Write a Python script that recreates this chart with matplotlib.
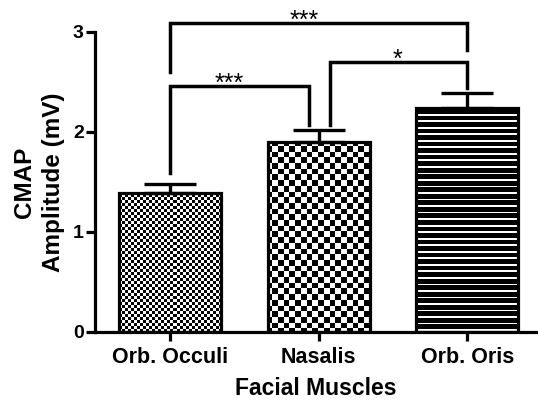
import numpy as np
import matplotlib
matplotlib.use("Agg")
import matplotlib.pyplot as plt

categories = ["Orb. Occuli", "Nasalis", "Orb. Oris"]
means = [1.39, 1.90, 2.24]
errors = [0.09, 0.12, 0.15]
yticks = [0, 1, 2, 3]
# significance brackets: (left bar, right bar, bracket height, left leg bottom,
#                         right leg bottom, label)
brackets = [
    (0, 2, 3.09, 2.60, 2.82, "***"),
    (0, 1, 2.46, 1.59, 2.07, "***"),
    (1, 2, 2.70, 2.07, 2.44, "*"),
]
# horizontal shift of bracket legs away from the bar centre (category units)
leg_shift = [(0.0, 0.0), (0.0, -0.067), (0.074, 0.0)]
label_shift = [-0.10, -0.10, 0.03]

plt.rcParams['font.family'] = ['Liberation Sans', 'DejaVu Sans']
plt.rcParams['font.weight'] = 'bold'

W, H = 538, 401
fig = plt.figure(figsize=(W / 100, H / 100), dpi=100)
ax_l, ax_r, ax_b, ax_t = 95, 537, 332, 32
ax = fig.add_axes([ax_l / W, (H - ax_b) / H, (ax_r - ax_l) / W, (ax_b - ax_t) / H])

x = np.arange(len(categories))
bars = ax.bar(x, means, width=0.687, facecolor='none', edgecolor='black',
              linewidth=2.3, zorder=3)
ax.errorbar(x, means, yerr=[np.zeros(len(errors)), errors], fmt='none',
            ecolor='black', elinewidth=2.4, capsize=19, capthick=2.4, zorder=2)

# fill patterns
apx_w, apx_h = ax_r - ax_l, ax_b - ax_t

def checker(cell):
    ny, nx = int(apx_h / cell) + 1, int(apx_w / cell) + 1
    yy, xx = np.mgrid[0:ny, 0:nx]
    img = ((yy + xx) % 2).astype(float)
    ext_w, ext_h = nx * cell / apx_w, ny * cell / apx_h
    return img, (0, ext_w, 1 - ext_h, 1)

def stripes(period):
    sub = 4
    ny = int(apx_h * sub)
    rows = np.arange(ny)
    img = np.where((rows % int(period * sub)) < int(period * sub) - 7, 0.0, 1.0)[:, None] * np.ones((1, 4))
    return img, (0, 1, 0, 1)

fills = [checker(3), checker(5.7), stripes(6.5)]
for bar, (img, ext) in zip(bars, fills):
    im = ax.imshow(img, cmap='gray', vmin=0, vmax=1, extent=ext,
                   transform=ax.transAxes, interpolation='nearest',
                   aspect='auto', zorder=1)
    im.set_clip_path(bar)

ax.set_xlim(-0.505, 2.47)
ax.set_ylim(0, 3)

# significance brackets
for (i, j, h, lb, rb, lab), (sl, sr), ls in zip(brackets, leg_shift, label_shift):
    xl, xr = x[i] + sl, x[j] + sr
    ax.plot([xl, xl, xr, xr], [lb, h, h, rb], color='black', lw=2.5,
            clip_on=False, zorder=4, solid_joinstyle='miter')
    ax.text((x[i] + x[j]) / 2 + ls, h - 0.05, lab,
            ha='center', va='baseline', fontsize=18, fontweight='normal',
            clip_on=False)

for s in ['top', 'right']:
    ax.spines[s].set_visible(False)
for s in ['left', 'bottom']:
    ax.spines[s].set_linewidth(2.3)

ax.set_xticks(x)
ax.set_xticklabels(categories, fontsize=15.5, fontweight='bold')
ax.set_yticks(yticks)
ax.set_yticklabels([str(t) for t in yticks], fontsize=14, fontweight='bold')
ax.tick_params(axis='both', width=2.3, length=6.5, direction='out')
ax.tick_params(axis='x', pad=4)
ax.tick_params(axis='y', pad=1.5)

ax.set_xlabel("Facial Muscles", fontsize=16.5, fontweight='bold', labelpad=7)
ax.set_ylabel("CMAP\nAmplitude (mV)", fontsize=17.5, fontweight='bold', labelpad=6,
              linespacing=1.3)

fig.savefig("out.png", dpi=100)
